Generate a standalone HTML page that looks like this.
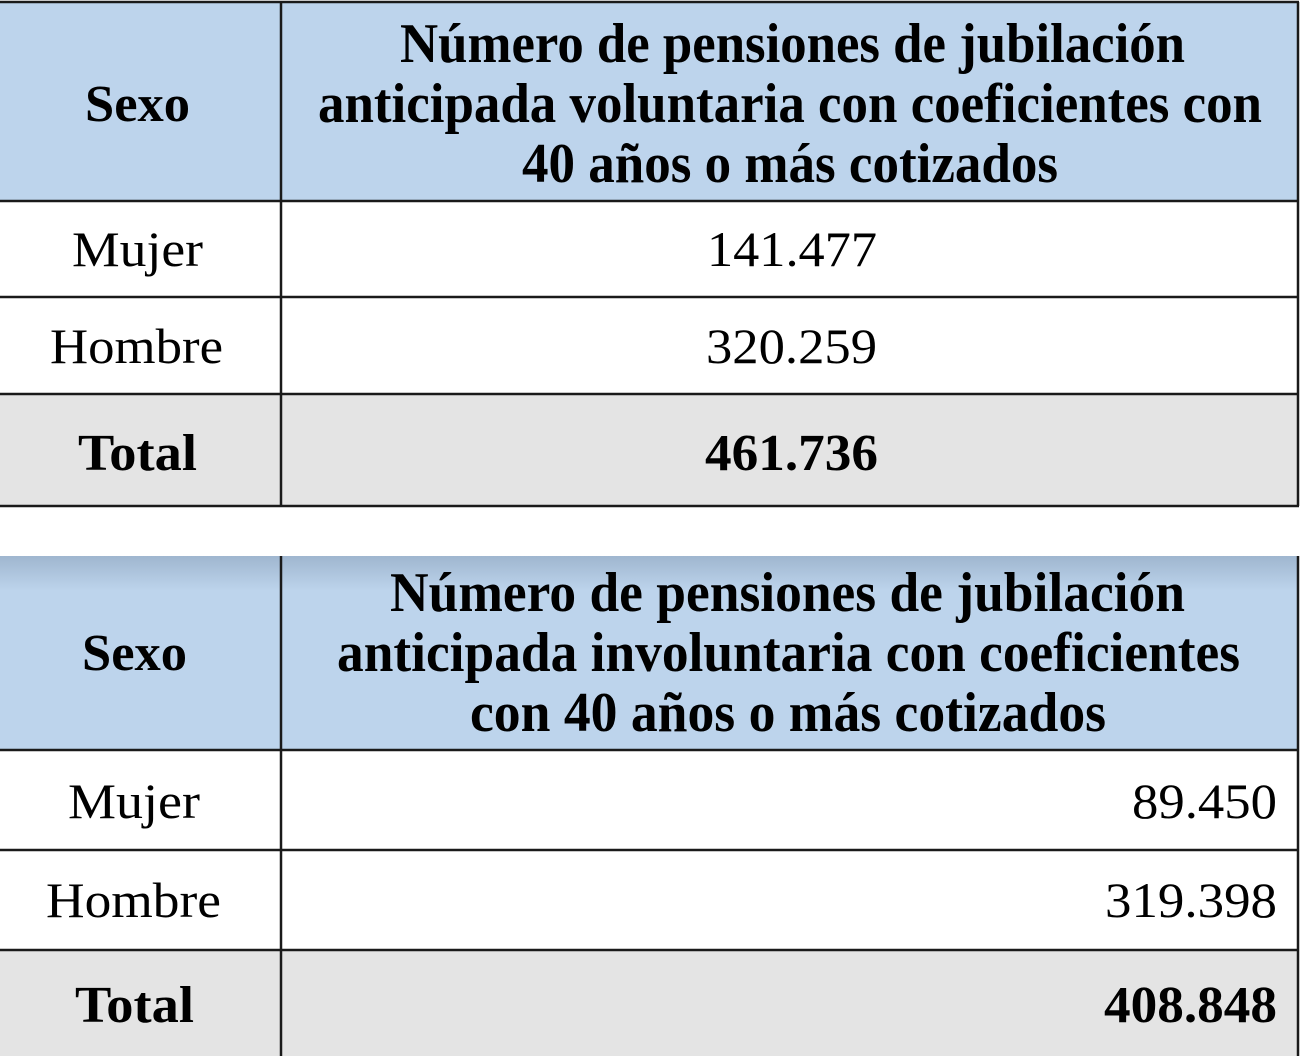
<!DOCTYPE html>
<html><head><meta charset="utf-8"><style>
html,body{margin:0;padding:0;background:#fff;width:1300px;height:1056px;overflow:hidden}
svg{display:block}
text{font-family:"Liberation Serif",serif;fill:#000}
.b{font-weight:bold}
</style></head><body>
<svg width="1300" height="1056" xmlns="http://www.w3.org/2000/svg">
<defs>
<linearGradient id="g2" x1="0" y1="0" x2="0" y2="1">
<stop offset="0" stop-color="#9fb6cf"/><stop offset="0.18" stop-color="#bdd4ec"/><stop offset="1" stop-color="#bdd4ec"/>
</linearGradient>
</defs>
<rect x="0" y="2" width="1298" height="199" fill="#bdd4ec"/>
<rect x="0" y="395" width="1298" height="111" fill="#e4e4e4"/>
<g stroke="#1a1a1a" stroke-width="2.5" fill="none">
<line x1="0" y1="2" x2="1299" y2="2"/>
<line x1="0" y1="201" x2="1299" y2="201"/>
<line x1="0" y1="297" x2="1299" y2="297"/>
<line x1="0" y1="394" x2="1299" y2="394"/>
<line x1="0" y1="506" x2="1299" y2="506"/>
<line x1="281" y1="2" x2="281" y2="506"/>
<line x1="1298" y1="2" x2="1298" y2="506"/>
</g>
<g font-size="56">
<text class="b" x="400" y="62" textLength="785" lengthAdjust="spacingAndGlyphs">Número de pensiones de jubilación</text>
<text class="b" x="318" y="122" textLength="944" lengthAdjust="spacingAndGlyphs">anticipada voluntaria con coeficientes con</text>
<text class="b" x="522" y="182" textLength="536" lengthAdjust="spacingAndGlyphs">40 años o más cotizados</text>
</g>
<g font-size="52">
<text class="b" x="85" y="121" textLength="105" lengthAdjust="spacingAndGlyphs">Sexo</text>
<text class="b" x="78" y="470" textLength="119" lengthAdjust="spacingAndGlyphs">Total</text>
<text class="b" x="705" y="470" textLength="173" lengthAdjust="spacingAndGlyphs">461.736</text>
</g>
<g font-size="50">
<text x="72" y="266" textLength="131" lengthAdjust="spacingAndGlyphs">Mujer</text>
<text x="707" y="266" textLength="170" lengthAdjust="spacingAndGlyphs">141.477</text>
<text x="50" y="363" textLength="173" lengthAdjust="spacingAndGlyphs">Hombre</text>
<text x="706" y="363" textLength="171" lengthAdjust="spacingAndGlyphs">320.259</text>
</g>
<rect x="0" y="556" width="1298" height="194" fill="url(#g2)"/>
<rect x="0" y="951" width="1298" height="105" fill="#e4e4e4"/>
<g stroke="#1a1a1a" stroke-width="2.5" fill="none">
<line x1="0" y1="750" x2="1299" y2="750"/>
<line x1="0" y1="850" x2="1299" y2="850"/>
<line x1="0" y1="950" x2="1299" y2="950"/>
<line x1="281" y1="556" x2="281" y2="1056"/>
<line x1="1298" y1="556" x2="1298" y2="1056"/>
</g>
<g font-size="56">
<text class="b" x="390" y="611" textLength="795" lengthAdjust="spacingAndGlyphs">Número de pensiones de jubilación</text>
<text class="b" x="337" y="671" textLength="903" lengthAdjust="spacingAndGlyphs">anticipada involuntaria con coeficientes</text>
<text class="b" x="470" y="731" textLength="636" lengthAdjust="spacingAndGlyphs">con 40 años o más cotizados</text>
</g>
<g font-size="52">
<text class="b" x="82" y="670" textLength="105" lengthAdjust="spacingAndGlyphs">Sexo</text>
<text class="b" x="75" y="1022" textLength="119" lengthAdjust="spacingAndGlyphs">Total</text>
<text class="b" x="1104" y="1022" textLength="173" lengthAdjust="spacingAndGlyphs">408.848</text>
</g>
<g font-size="50">
<text x="68" y="818" textLength="132" lengthAdjust="spacingAndGlyphs">Mujer</text>
<text x="1132" y="818" textLength="145" lengthAdjust="spacingAndGlyphs">89.450</text>
<text x="46" y="917" textLength="175" lengthAdjust="spacingAndGlyphs">Hombre</text>
<text x="1105" y="917" textLength="172" lengthAdjust="spacingAndGlyphs">319.398</text>
</g>
</svg>
</body></html>
